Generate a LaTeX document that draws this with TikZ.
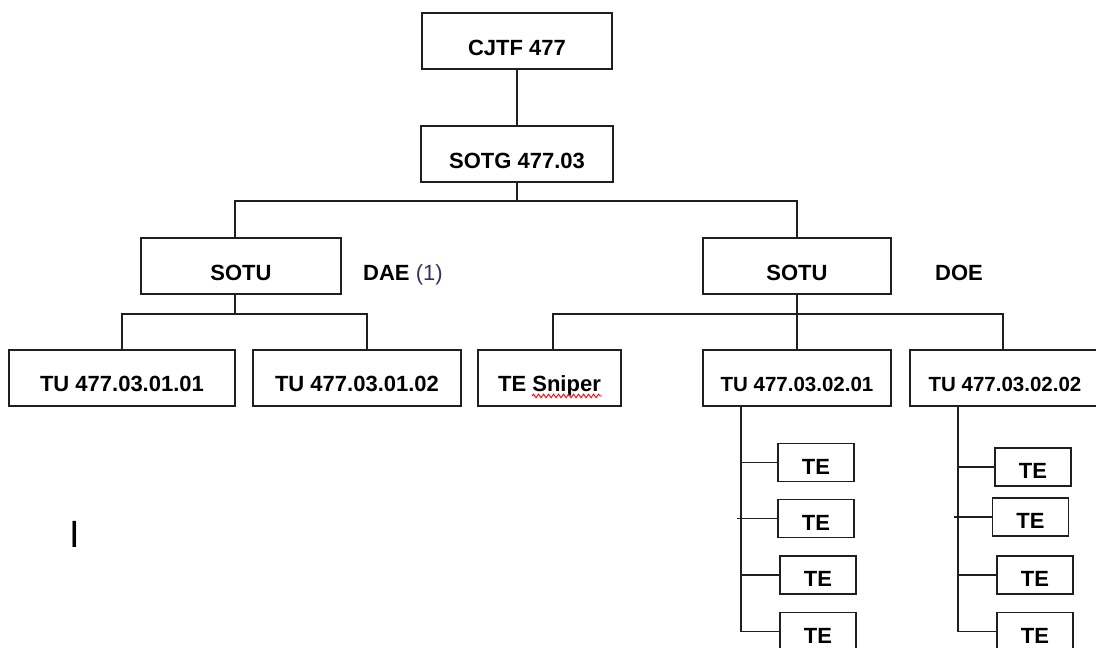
\documentclass[tikz,border=0pt]{standalone}
\usepackage{fontspec}
\setmainfont{Liberation Sans}
\usetikzlibrary{calc,decorations.pathmorphing}
\definecolor{lnc}{rgb}{0.12,0.12,0.12}
\definecolor{paren}{rgb}{0.2,0.2,0.38}
\begin{document}
\begin{tikzpicture}[x=1pt,y=-1pt,
  box/.style={draw=lnc, line width=1.9pt, inner sep=0pt, minimum height=56pt,
    font=\bfseries\fontsize{22}{22}\selectfont, text height=28pt, text depth=0pt},
  tubox/.style={box, text height=26pt},
  tebox/.style={box, minimum width=76pt, minimum height=38pt, text height=23pt},
  conn/.style={draw=lnc, line width=1.9pt},
  lbl/.style={inner sep=0pt, anchor=base west, font=\bfseries\fontsize{22}{22}\selectfont}]
\useasboundingbox (0,0) rectangle (1096,648);
% boxes
\node[box, minimum width=190pt] (cjtf) at (517,41) {CJTF 477};
\node[box, minimum width=192pt] (sotg) at (517,154) {SOTG 477.03};
\node[box, minimum width=200pt] (sotuL) at (241,266) {SOTU};
\node[box, minimum width=188pt] (sotuR) at (797,266) {SOTU};
\node[tubox, minimum width=226pt] (tu11) at (122,378) {TU 477.03.01.01};
\node[tubox, minimum width=208pt] (tu12) at (357,378) {TU 477.03.01.02};
\node[tubox, minimum width=143pt] (sniper) at (549.5,378) {TE Sniper};
\node[tubox, minimum width=188pt, font=\bfseries\fontsize{20.5}{20.5}\selectfont] (tu21) at (797,378) {TU 477.03.02.01};
\node[tubox, minimum width=190pt, font=\bfseries\fontsize{20.5}{20.5}\selectfont] (tu22) at (1005,378) {TU 477.03.02.02};
% TE column 1
\node[tebox] (te11) at (816,462.5) {TE};
\node[tebox] (te12) at (816,518.5) {TE};
\node[tebox] (te13) at (818,575) {TE};
\node[tebox] (te14) at (818,631.5) {TE};
% TE column 2
\node[tebox] (te21) at (1033,467) {TE};
\node[tebox] (te22) at (1030.5,517) {TE};
\node[tebox] (te23) at (1035,575) {TE};
\node[tebox] (te24) at (1035,631.5) {TE};
% side labels
\node[lbl] (dae) at (363,280) {DAE \mdseries\textcolor{paren}{(1)}};
\node[lbl] (doe) at (935,280) {DOE};
\node[inner sep=0pt, anchor=base west, font=\fontsize{38}{38}\selectfont] (cursor) at (69.5,547) {I};
% connectors
\draw[conn] (cjtf) -- (sotg);
\draw[conn] (sotg.south) -- ++(0,18) coordinate (busTop);
\draw[conn] ([xshift=-6pt]sotuL.north) |- (busTop) -| (sotuR.north);
\draw[conn] ([xshift=-6pt]sotuL.south) -- ++(0,19) coordinate (busL);
\draw[conn] (tu11.north) |- (busL) -| ([xshift=10pt]tu12.north);
\draw[conn] (sotuR.south) -- ++(0,19) coordinate (busR);
\draw[conn] ([xshift=3.5pt]sniper.north) |- (busR) -| (tu21.north);
\draw[conn] (busR) -| ([xshift=-2pt]tu22.north);
% column spines
\draw[conn] ([xshift=-56pt]tu21.south) coordinate (v1) |- (te14.west);
\draw[conn] (te11.west) -- (te11.west -| v1);
\draw[conn] (te12.west) -- ([xshift=-4pt]te12.west -| v1);
\draw[conn] (te13.west) -- (te13.west -| v1);
\draw[conn] ([xshift=-47pt]tu22.south) coordinate (v2) |- (te24.west);
\draw[conn] (te21.west) -- (te21.west -| v2);
\draw[conn] (te22.west) -- ([xshift=-4pt]te22.west -| v2);
\draw[conn] (te23.west) -- (te23.west -| v2);
% spell-check squiggle
\draw[red, line width=0.9pt, decorate, decoration={snake, amplitude=1.8pt, segment length=5pt}]
  ($(sniper.south)+(-17.5,-11)$) -- ($(sniper.south)+(52.5,-11)$);
\end{tikzpicture}
\end{document}
